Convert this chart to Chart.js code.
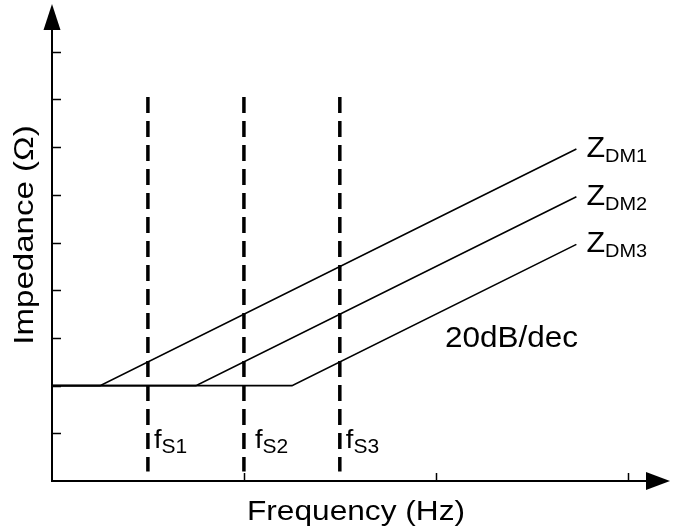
<!DOCTYPE html>
<html>
<head>
<meta charset="utf-8">
<script src="https://cdn.jsdelivr.net/npm/chart.js@4"></script>
<style>
  html, body { margin: 0; padding: 0; background: #fff; }
  canvas { display: block; }
</style>
</head>
<body>
<canvas id="chart" width="673" height="531"></canvas>
<script>
// Impedance vs frequency, log frequency axis, impedance in dB
const seriesNames = ['DM1', 'DM2', 'DM3'];
const floorDb = 20;
const cornerFreq = [1.78, 5.62, 17.8];
const endFreq = [540, 540, 540];
const endDb = [69.6, 59.6, 49.6];

const switchNames = ['S1', 'S2', 'S3'];
const switchFreq = [3.16, 10, 31.6];
const switchSpan = [80.5, 2];

const xTicks = [10, 100, 1000];
const yTicks = [10, 20, 30, 40, 50, 60, 70, 80, 90];
const slopeText = '20dB/dec';

const FONT = '"Liberation Sans", Arial, sans-serif';

function stretchedText(ctx, str, x, y, size, sx) {
    ctx.save();
    ctx.font = size + 'px ' + FONT;
    ctx.translate(x, y);
    ctx.scale(sx, 1);
    ctx.fillText(str, 0, 0);
    const w = ctx.measureText(str).width * sx;
    ctx.restore();
    return w;
}

// main letter with a subscript after it
function subText(ctx, main, sub, x, y, size, subSize, drop) {
    const w = stretchedText(ctx, main, x, y, size, 1.05);
    stretchedText(ctx, sub, x + w, y + drop, subSize, 1.05);
}

const axesPlugin = {
    id: 'arrowAxes',
    afterDraw(chart) {
        const ctx = chart.ctx;
        const a = chart.chartArea;
        const xs = chart.scales.x, ys = chart.scales.y;
        const x0 = a.left, y0 = a.bottom;
        ctx.save();
        ctx.strokeStyle = '#000';
        ctx.fillStyle = '#000';
        ctx.lineWidth = 2;
        ctx.beginPath();
        ctx.moveTo(x0, y0);
        ctx.lineTo(x0, a.top + 24);
        ctx.moveTo(x0 - 1, y0);
        ctx.lineTo(a.right - 22, y0);
        ctx.stroke();

        // arrow heads
        ctx.beginPath();
        ctx.moveTo(x0, a.top);
        ctx.lineTo(x0 - 8.5, a.top + 26);
        ctx.lineTo(x0 + 8.5, a.top + 26);
        ctx.closePath();
        ctx.fill();
        ctx.beginPath();
        ctx.moveTo(a.right, y0);
        ctx.lineTo(a.right - 24, y0 - 9);
        ctx.lineTo(a.right - 24, y0 + 9);
        ctx.closePath();
        ctx.fill();

        ctx.lineWidth = 1.5;
        ctx.beginPath();
        yTicks.forEach(v => {
            const py = Math.round(ys.getPixelForValue(v)) + 0.5;
            ctx.moveTo(x0, py);
            ctx.lineTo(x0 + 9, py);
        });
        xTicks.forEach(v => {
            const px = Math.round(xs.getPixelForValue(v)) + 0.5;
            ctx.moveTo(px, y0);
            ctx.lineTo(px, y0 - 8);
        });
        ctx.stroke();

        // axis titles
        ctx.textBaseline = 'alphabetic';
        ctx.save();
        ctx.font = '28px ' + FONT;
        ctx.translate(33, 235);
        ctx.rotate(-Math.PI / 2);
        ctx.scale(1.18, 1);
        ctx.textAlign = 'center';
        ctx.fillText('Impedance (\u03A9)', 0, 0);
        ctx.restore();

        ctx.save();
        ctx.font = '28px ' + FONT;
        ctx.translate(356, 520);
        ctx.scale(1.13, 1);
        ctx.textAlign = 'center';
        ctx.fillText('Frequency (Hz)', 0, 0);
        ctx.restore();

        // curve names at the line ends
        seriesNames.forEach((n, i) => {
            const px = xs.getPixelForValue(endFreq[i]);
            const py = ys.getPixelForValue(endDb[i]);
            subText(ctx, 'Z', n, px + 10, py + 8, 29, 19, 5);
        });

        // switching frequency names beside the dashed lines
        const fOffset = [6, 11, 6];
        switchNames.forEach((n, i) => {
            const px = xs.getPixelForValue(switchFreq[i]);
            subText(ctx, 'f', n, px + fOffset[i], 448, 26, 20, 5);
        });

        stretchedText(ctx, slopeText, 445, 347, 30, 1.05);
        ctx.restore();
    }
};

const datasets = [];
seriesNames.forEach((n, i) => {
    datasets.push({
        label: 'Z' + n,
        data: [
            { x: 1, y: floorDb },
            { x: cornerFreq[i], y: floorDb },
            { x: endFreq[i], y: endDb[i] }
        ],
        borderColor: '#000',
        borderWidth: 1.6,
        pointRadius: 0,
        tension: 0
    });
});
switchNames.forEach((n, i) => {
    datasets.push({
        label: 'f' + n,
        data: [
            { x: switchFreq[i], y: switchSpan[0] },
            { x: switchFreq[i], y: switchSpan[1] }
        ],
        borderColor: '#000',
        borderWidth: 3.5,
        borderDash: [16, 8],
        borderCapStyle: 'butt',
        pointRadius: 0
    });
});

new Chart(document.getElementById('chart'), {
    type: 'line',
    data: { datasets },
    options: {
        responsive: false,
        animation: false,
        layout: { padding: { left: 52, right: 3, top: 4, bottom: 50 } },
        scales: {
            x: { type: 'logarithmic', min: 1, max: 1660, display: false },
            y: { type: 'linear', min: 0, max: 100, display: false }
        },
        plugins: {
            legend: { display: false },
            tooltip: { enabled: false }
        }
    },
    plugins: [axesPlugin]
});
</script>
</body>
</html>
